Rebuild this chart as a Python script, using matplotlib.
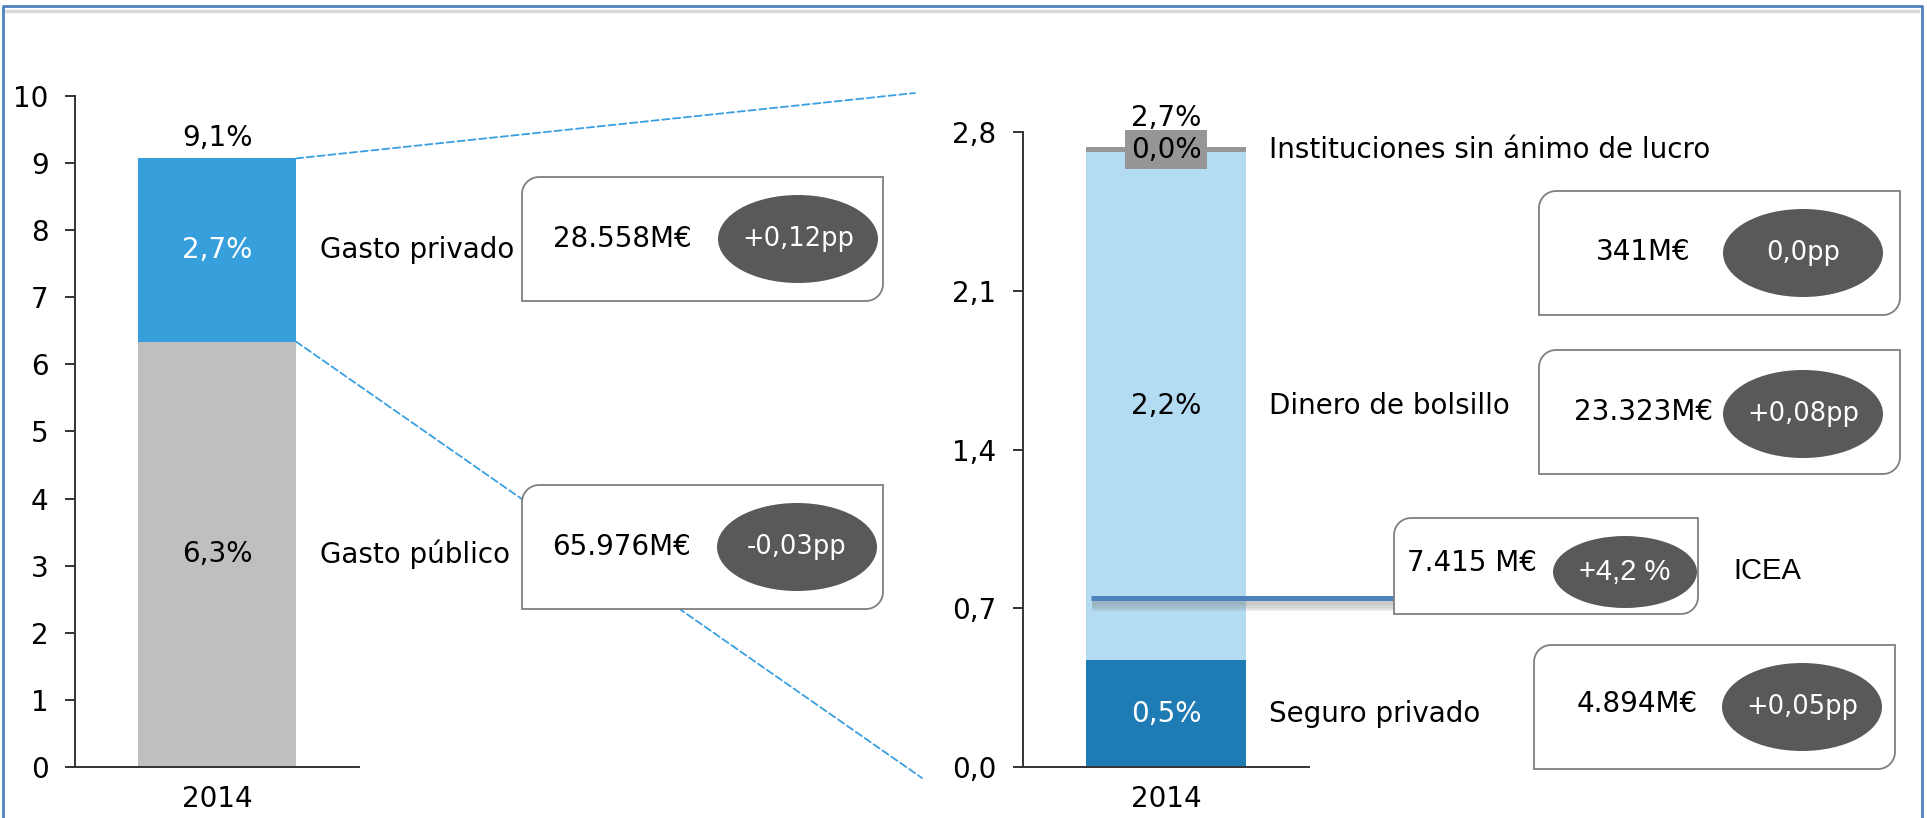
import numpy as np
import matplotlib
matplotlib.use('Agg')
import matplotlib.pyplot as plt
import matplotlib.transforms as mtransforms
import matplotlib.patheffects as pe
from matplotlib.patches import Polygon, Ellipse, ConnectionPatch
from matplotlib.lines import Line2D
from matplotlib.ticker import FuncFormatter

plt.rcParams['font.family'] = ['DejaVu Sans']

# left chart: total health spending (% GDP), 2014
left_names = ['Gasto público', 'Gasto privado']
left_values = [6.34, 2.73]
left_pct = ['6,3%', '2,7%']
left_total = '9,1%'
left_amounts = ['65.976M€', '28.558M€']
left_changes = ['-0,03pp', '+0,12pp']

# right chart: breakdown of private spending
right_names = ['Seguro privado', 'Dinero de bolsillo', 'Instituciones sin ánimo de lucro']
right_values = [0.47, 2.24, 0.025]
right_pct = ['0,5%', '2,2%', '0,0%']
right_total = '2,7%'
right_amounts = ['4.894M€', '23.323M€', '341M€']
right_changes = ['+0,05pp', '+0,08pp', '0,0pp']

icea_level = 0.745
icea_amount = '7.415 M€'
icea_change = '+4,2 %'

year = '2014'

W, H = 1927, 818
FS = 20


def fx(px):
    return px / W


def fy(py):
    return 1 - py / H


def diag_box(x0, y0, x1, y1, r=17):
    # rectangle with top-left and bottom-right corners rounded (pixel coords, y down)
    top, bot = H - y0, H - y1
    pts = [(x0, bot), (x0, top - r)]
    for a in np.linspace(np.pi, np.pi / 2, 12):
        pts.append((x0 + r + r * np.cos(a), top - r + r * np.sin(a)))
    pts += [(x1, top), (x1, bot + r)]
    for a in np.linspace(0, -np.pi / 2, 12):
        pts.append((x1 - r + r * np.cos(a), bot + r + r * np.sin(a)))
    pts = [(px / W, py / H) for px, py in pts]
    return Polygon(pts, closed=True, transform=fig.transFigure, facecolor='white',
                   edgecolor='#7f7f7f', lw=1.3, zorder=2)


def info_box(box, text_xy, ell, amount, change, ell_font='DejaVu Sans', ell_fs=18.5):
    fig.add_artist(diag_box(*box))
    fig.text(fx(text_xy[0]), fy(text_xy[1]), amount, ha='center', va='center',
             fontsize=FS, zorder=4)
    cx, cy, ew, eh = ell
    fig.add_artist(Ellipse((fx(cx), fy(cy)), ew / W, eh / H, transform=fig.transFigure,
                           facecolor='#595959', edgecolor='none', zorder=3))
    fig.text(fx(cx), fy(cy), change, ha='center', va='center', color='white',
             fontsize=ell_fs, family=ell_font, zorder=4)


fig = plt.figure(figsize=(W / 100, H / 100), dpi=100)

ax1 = fig.add_axes([fx(75), fy(767), fx(359) - fx(75), (767 - 96) / H])
ax2 = fig.add_axes([fx(1023), fy(767), fx(1309) - fx(1023), (767 - 132) / H])

comma = FuncFormatter(lambda v, p: ('%.1f' % v).replace('.', ','))

for ax in (ax1, ax2):
    for s in ('top', 'right'):
        ax.spines[s].set_visible(False)
    for s in ('left', 'bottom'):
        ax.spines[s].set_linewidth(1.4)
        ax.spines[s].set_color('#333333')
    ax.set_xlim(-0.5, 0.5)
    ax.set_xticks([0])
    ax.set_xticklabels([year])
    ax.tick_params(axis='x', length=0, pad=13, labelsize=FS)
    ax.tick_params(axis='y', length=7, width=1.4, color='#333333', pad=12, labelsize=FS)

# left stacked bar
bw1 = 0.556
left_colors = ['#bfbfbf', '#379fdc']
left_txt_colors = ['black', 'white']
bottoms = np.concatenate([[0], np.cumsum(left_values)[:-1]])
for v, b, c, t, tc, name in zip(left_values, bottoms, left_colors, left_pct, left_txt_colors, left_names):
    ax1.bar([0], [v], bottom=b, width=bw1, color=c, zorder=2)
    ax1.text(0, b + v / 2, t, ha='center', va='center', color=tc, fontsize=FS, zorder=3)
    ax1.text(0.863, b + v / 2, name, ha='left', va='center', fontsize=FS,
             transform=mtransforms.blended_transform_factory(ax1.transAxes, ax1.transData))
left_sum = sum(left_values)
ax1.annotate(left_total, (0, left_sum), xytext=(0, 15), textcoords='offset points',
             ha='center', va='center', fontsize=FS)
ax1.set_ylim(0, 10)
ax1.set_yticks(range(0, 11))

# right stacked bar
bw2 = 0.56
right_colors = ['#1f7bb4', '#b3dbf1', '#969696']
right_txt_colors = ['white', 'black', 'black']
bottoms = np.concatenate([[0], np.cumsum(right_values)[:-1]])
for i, (v, b, c, t, tc, name) in enumerate(zip(right_values, bottoms, right_colors, right_pct,
                                                right_txt_colors, right_names)):
    ax2.bar([0], [v], bottom=b, width=bw2, color=c, zorder=2)
    kw = {}
    if i == 2:
        kw['bbox'] = dict(facecolor='#969696', edgecolor='none', pad=4)
    ax2.text(0, b + v / 2, t, ha='center', va='center', color=tc, fontsize=FS, zorder=3, **kw)
    ax2.text(0.86, b + v / 2, name, ha='left', va='center', fontsize=FS,
             transform=mtransforms.blended_transform_factory(ax2.transAxes, ax2.transData))
right_sum = sum(right_values)
ax2.annotate(right_total, (0, right_sum), xytext=(0, 21), textcoords='offset points',
             ha='center', va='center', fontsize=FS, zorder=4)
ax2.set_ylim(0, 2.8)
ax2.set_yticks([0, 0.7, 1.4, 2.1, 2.8])
ax2.yaxis.set_major_formatter(comma)

# ICEA marker line with a soft shadow
blend2 = mtransforms.blended_transform_factory(ax2.transAxes, ax2.transData)
shadow = [pe.SimpleLineShadow(offset=(1, -d), shadow_color='#7f7f7f', alpha=0.12, linewidth=lw)
          for d, lw in [(2, 6), (3, 8), (4, 10), (5, 7)]]
ax2.plot([0.238, 1.3], [icea_level, icea_level], transform=blend2, clip_on=False,
         color='#4f81bd', lw=3.6, zorder=4, solid_capstyle='butt',
         path_effects=shadow + [pe.Normal()])
fig.text(fx(1767), fy(571), 'ICEA', ha='center', va='center', fontsize=21,
         family='Liberation Sans')

# dashed zoom connectors
for yv, end in [(left_sum, (915, 93)), (left_values[0], (922, 778))]:
    con = ConnectionPatch(xyA=(bw1 / 2, yv), coordsA=ax1.transData,
                          xyB=(fx(end[0]), fy(end[1])), coordsB=fig.transFigure,
                          color='#3a9fe0', lw=1.3, linestyle=(0, (4, 2)), zorder=1)
    fig.add_artist(con)

# value boxes
info_box((522, 177, 883, 301), (622, 239), (798, 239, 160, 88), left_amounts[1], left_changes[1])
info_box((522, 485, 883, 609), (622, 547), (797, 547, 160, 88), left_amounts[0], left_changes[0])
info_box((1539, 191, 1900, 315), (1643, 252), (1803, 253, 160, 88), right_amounts[2], right_changes[2])
info_box((1539, 350, 1900, 474), (1643, 412), (1803, 414, 160, 88), right_amounts[1], right_changes[1])
info_box((1534, 645, 1895, 769), (1637, 704), (1802, 707, 160, 88), right_amounts[0], right_changes[0])
info_box((1394, 518, 1698, 614), (1472, 563), (1625, 572, 144, 72), icea_amount, icea_change,
         ell_font='Liberation Sans', ell_fs=21)

# outer frame
fig.add_artist(Line2D([fx(6), fx(1918)], [fy(11), fy(11)], transform=fig.transFigure,
                      color='#d9d9d9', lw=2.5))
fig.add_artist(Line2D([fx(3), fx(3), fx(1922), fx(1922)], [fy(818), fy(6), fy(6), fy(818)],
                      transform=fig.transFigure, color='#4f81bd', lw=2))

fig.savefig('out.png', dpi=100)
